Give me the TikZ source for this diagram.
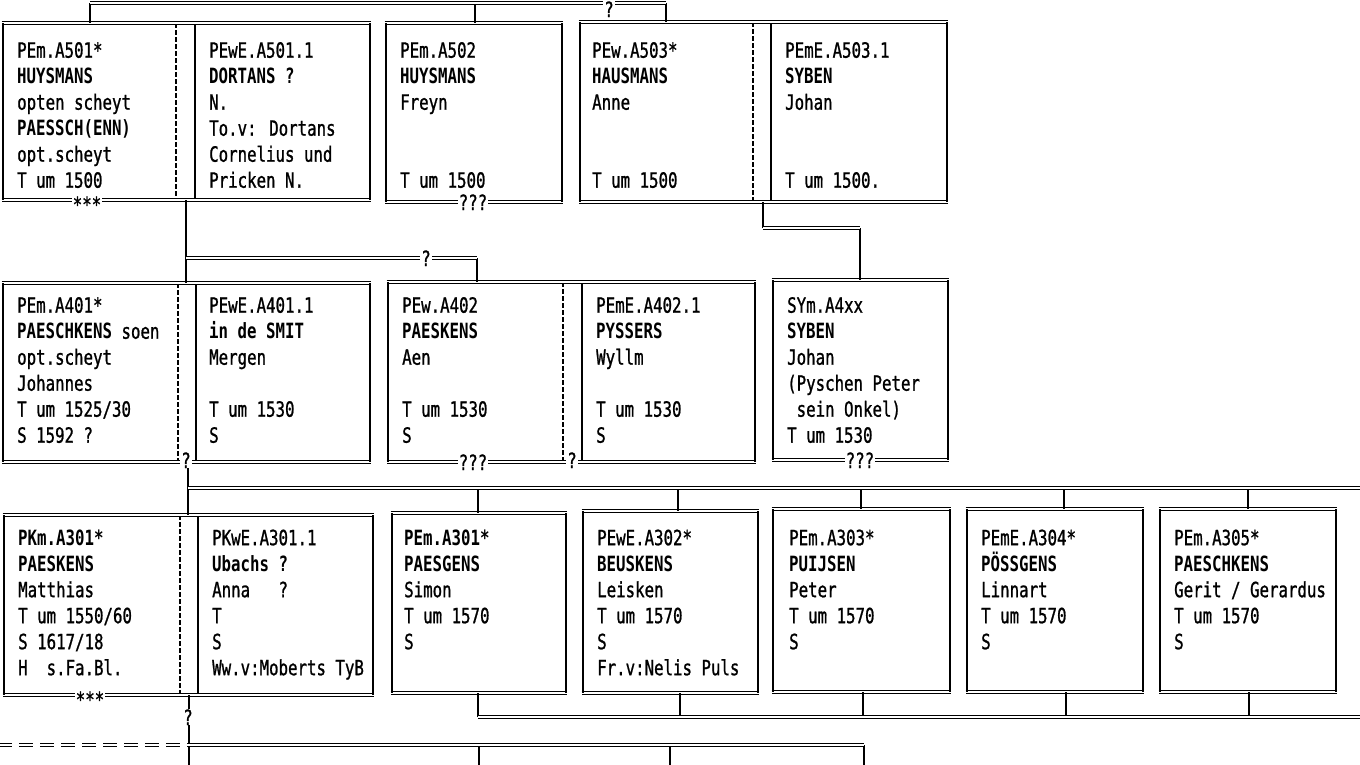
\documentclass[tikz,border=0pt]{standalone}
\usepackage{fontspec}
\newfontfamily\dm[FakeStretch=0.75, UprightFeatures={FakeBold=1}]{DejaVu Sans Mono}
\usetikzlibrary{fit}
\newcommand\fs{\rule{0pt}{18pt}}
\newcommand\tx[3]{\node[txt] (#1) at (#2) {\parbox[t]{220pt}{\fs #3}};}
\newcommand\pbox[3]{%
  \node[boxarea, fit={(#2) (#3)}] (#1) {};
  \draw[hb] ([xshift=-1.3pt]#1.north west) -- ([xshift=1.3pt]#1.north east);
  \draw[hb] ([xshift=-1.3pt]#1.south west) -- ([xshift=1.3pt]#1.south east);
  \draw[vb] (#1.north west) -- (#1.south west);
  \draw[vb] (#1.north east) -- (#1.south east);}
\begin{document}
\begin{tikzpicture}[x=1pt,y=-1pt,
  boxarea/.style={inner sep=0pt, outer sep=0pt},
  hb/.style={draw=black, line width=4.8pt, postaction={draw=white, line width=1.6pt}},
  vb/.style={draw=black, line width=2.6pt},
  txt/.style={inner sep=0pt, anchor=north west, font=\dm\fontsize{21}{26}\selectfont},
  conn/.style={draw=black, line width=4.4pt, postaction={draw=white, line width=1.8pt}},
  vconn/.style={draw=black, line width=2.6pt},
  dconn/.style={conn, dash pattern=on 14pt off 7pt},
  divA/.style={draw=black, line width=1.4pt, dash pattern=on 5pt off 2pt},
  divB/.style={draw=black, line width=1.4pt},
  lbl/.style={fill=white, inner xsep=1pt, inner ysep=0pt, anchor=base, font=\dm\fontsize{21}{21}\selectfont}
]
\fill[white] (0,0) rectangle (1360,764);
\useasboundingbox (0,0) rectangle (1360,764);

% ---------- dividers of couple boxes ----------
\draw[divA] (176,23) -- (176,200);  \draw[divB] (195,23) -- (195,200);
\draw[divA] (753,22) -- (753,202);  \draw[divB] (771,22) -- (771,202);
\draw[divA] (178,283) -- (178,462); \draw[divB] (196,283) -- (196,462);
\draw[divA] (563,282) -- (563,462); \draw[divB] (582,282) -- (582,462);
\draw[divA] (180,515) -- (180,695); \draw[divB] (198,515) -- (198,695);

% ---------- boxes ----------
\pbox{a501}{3,23}{370,200}
\pbox{a502}{386,23}{562,202}
\pbox{a503}{580,22}{947,202}
\pbox{a401}{3,283}{370,462}
\pbox{a402}{388,282}{755,462}
\pbox{sym}{773,280}{948,460}
\pbox{a301}{4,515}{373,695}
\pbox{p301}{392,513}{566,693}
\pbox{a302}{583,511}{758,693}
\pbox{a303}{773,509}{950,692}
\pbox{a304}{967,509}{1143,692}
\pbox{a305}{1160,509}{1336,692}

% ---------- texts ----------
\tx{a501l}{17,39.5}{PEm.A501*\\\textbf{HUYSMANS}\\opten scheyt\\\textbf{PAESSCH(ENN)}\\opt.scheyt\\T um 1500}
\tx{a501r}{209,39.5}{PEwE.A501.1\\\textbf{DORTANS ?}\\N.\\To.v: Dortans\\Cornelius und\\Pricken N.}
\tx{a502t}{400,39.5}{PEm.A502\\\textbf{HUYSMANS}\\Freyn\\\mbox{}\\\mbox{}\\T um 1500}
\tx{a503l}{592,39.5}{PEw.A503*\\\textbf{HAUSMANS}\\Anne\\\mbox{}\\\mbox{}\\T um 1500}
\tx{a503r}{785,39.5}{PEmE.A503.1\\\textbf{SYBEN}\\Johan\\\mbox{}\\\mbox{}\\T um 1500.}

\tx{a401l}{17,294.5}{PEm.A401*\\\textbf{PAESCHKENS} soen\\opt.scheyt\\Johannes\\T um 1525/30\\S 1592 ?}
\tx{a401r}{209,294.5}{PEwE.A401.1\\\textbf{in de SMIT}\\Mergen\\\mbox{}\\T um 1530\\S}
\tx{a402l}{402,294.5}{PEw.A402\\\textbf{PAESKENS}\\Aen\\\mbox{}\\T um 1530\\S}
\tx{a402r}{596,294.5}{PEmE.A402.1\\\textbf{PYSSERS}\\Wyllm\\\mbox{}\\T um 1530\\S}
\tx{symt}{787,294.5}{SYm.A4xx\\\textbf{SYBEN}\\Johan\\(Pyschen Peter\\\mbox{}\ sein Onkel)\\T um 1530}

\tx{a301l}{18,527}{\textbf{PKm.A301*}\\\textbf{PAESKENS}\\Matthias\\T um 1550/60\\S 1617/18\\H\ \ s.Fa.Bl.}
\tx{a301r}{212,527}{PKwE.A301.1\\\textbf{Ubachs ?}\\Anna\ \ \ ?\\T\\S\\Ww.v:Moberts TyB}
\tx{p301t}{404,527}{\textbf{PEm.A301*}\\\textbf{PAESGENS}\\Simon\\T um 1570\\S}
\tx{a302t}{597,527}{PEwE.A302*\\\textbf{BEUSKENS}\\Leisken\\T um 1570\\S\\Fr.v:Nelis Puls}
\tx{a303t}{789,527}{PEm.A303*\\\textbf{PUIJSEN}\\Peter\\T um 1570\\S}
\tx{a304t}{981,527}{PEmE.A304*\\\textbf{PÖSSGENS}\\Linnart\\T um 1570\\S}
\tx{a305t}{1174,527}{PEm.A305*\\\textbf{PAESCHKENS}\\Gerit / Gerardus\\T um 1570\\S}

% ---------- connector points ----------
\coordinate (t1) at (90,3);
\coordinate (t2) at (666,3);
\coordinate (t3) at (475,3);
\coordinate (d1) at (186,258);
\coordinate (b2) at (477,258);
\coordinate (c1) at (763,228);
\coordinate (c2) at (860,228);
\coordinate (d2) at (188,488);
\coordinate (h3R) at (1364,488);
\coordinate (j1) at (478,488);
\coordinate (j2) at (678,488);
\coordinate (j3) at (861,488);
\coordinate (j4) at (1064,488);
\coordinate (j5) at (1248,488);
\coordinate (k1) at (478,717);
\coordinate (k2) at (680,717);
\coordinate (k3) at (863,717);
\coordinate (k4) at (1066,717);
\coordinate (k5) at (1249,717);
\coordinate (kR) at (1364,717);
\coordinate (e0) at (-2,745);
\coordinate (e1) at (189,745);
\coordinate (e2) at (864,745);
\coordinate (e1b) at (189,768);
\coordinate (e2b) at (864,768);
\coordinate (f1) at (479,745);
\coordinate (f2) at (670,745);
\coordinate (f1b) at (479,768);
\coordinate (f2b) at (670,768);

% ---------- vertical connectors ----------
\draw[vconn] (t1 |- a501.north) -- (t1);
\draw[vconn] (t2) -- (t2 |- a503.north);
\draw[vconn] (t3) -- (t3 |- a502.north);
\draw[vconn] (d1 |- a501.south) -- (d1 |- a401.north);
\draw[vconn] (b2) -- (b2 |- a402.north);
\draw[vconn] (c1 |- a503.south) -- (c1);
\draw[vconn] (c2) -- (c2 |- sym.north);
\draw[vconn] (d2 |- a401.south) -- (d2 |- a301.north);
\draw[vconn] (j1) -- (j1 |- p301.north);
\draw[vconn] (j2) -- (j2 |- a302.north);
\draw[vconn] (j3) -- (j3 |- a303.north);
\draw[vconn] (j4) -- (j4 |- a304.north);
\draw[vconn] (j5) -- (j5 |- a305.north);
\draw[vconn] (k1 |- p301.south) -- (k1);
\draw[vconn] (k2 |- a302.south) -- (k2);
\draw[vconn] (k3 |- a303.south) -- (k3);
\draw[vconn] (k4 |- a304.south) -- (k4);
\draw[vconn] (k5 |- a305.south) -- (k5);
\draw[vconn] (e1 |- a301.south) -- (e1b);
\draw[vconn] (e2) -- (e2b);
\draw[vconn] (f1) -- (f1b);
\draw[vconn] (f2) -- (f2b);

% ---------- horizontal connectors ----------
\draw[conn] (t1) -- (t2);
\draw[conn] (d1) -- (b2);
\draw[conn] (c1) -- (c2);
\draw[conn] (d2) -- (h3R);
\draw[conn] (k1) -- (kR);
\draw[conn] (e1) -- (e2);
\draw[dconn] (e0) -- (e1);

% ---------- labels on lines ----------
\node[lbl] (q0) at (609,17) {?};
\node[lbl] (q1) at (426,266) {?};
\node[lbl] (s1) at (87,212) {***};
\node[lbl] (s2) at (473,210) {???};
\node[lbl] (q2) at (186,468) {?};
\node[lbl] (s3) at (473,470) {???};
\node[lbl] (q3) at (572,468) {?};
\node[lbl] (s4) at (860,468) {???};
\node[lbl] (s5) at (90,707) {***};
\node[lbl] (q4) at (188,725) {?};
\end{tikzpicture}
\end{document}
